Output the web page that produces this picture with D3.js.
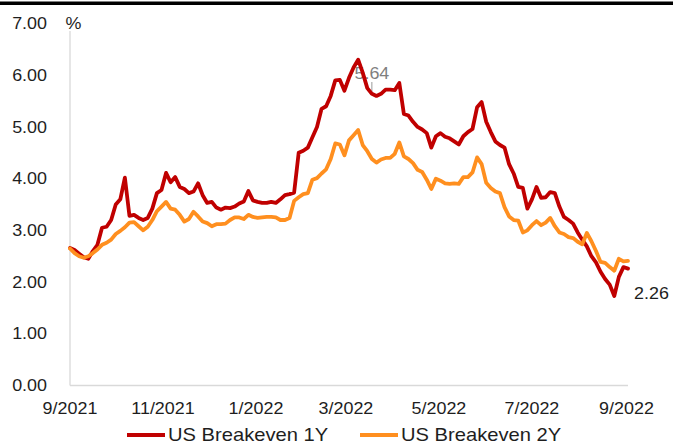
<!DOCTYPE html>
<html>
<head>
<meta charset="utf-8">
<script src="https://cdn.jsdelivr.net/npm/d3@7/dist/d3.min.js"></script>
<style>
  html, body { margin: 0; padding: 0; background: #fff; }
  svg { display: block; }
  text { font-family: "Liberation Sans", Arial, sans-serif; }
</style>
</head>
<body>
<svg id="chart" width="673" height="446"></svg>
<script>
// Observations every 3 days starting 1 Sep 2021
const startDate = new Date(2021, 8, 1);
const stepDays = 3;

const breakeven1Y = [
  2.66, 2.62, 2.55, 2.48, 2.45, 2.60, 2.72, 3.05, 3.07, 3.20,
  3.50, 3.60, 4.02, 3.28, 3.30, 3.24, 3.20, 3.24, 3.42, 3.72,
  3.78, 4.11, 3.93, 4.03, 3.84, 3.80, 3.72, 3.75, 3.91, 3.68,
  3.53, 3.55, 3.44, 3.40, 3.44, 3.43, 3.46, 3.52, 3.56, 3.76,
  3.58, 3.55, 3.53, 3.53, 3.55, 3.53, 3.60, 3.68, 3.70, 3.73,
  4.50, 4.54, 4.60, 4.80, 5.00, 5.35, 5.40, 5.60, 5.90, 5.91,
  5.70, 5.95, 6.15, 6.30, 6.05, 5.75, 5.64, 5.60, 5.64, 5.72,
  5.72, 5.71, 5.85, 5.25, 5.22, 5.10, 5.00, 4.95, 4.88, 4.60,
  4.82, 4.88, 4.81, 4.78, 4.72, 4.66, 4.82, 4.90, 4.96, 5.38,
  5.48, 5.10, 4.90, 4.72, 4.65, 4.60, 4.28, 4.10, 3.84, 3.82,
  3.42, 3.60, 3.84, 3.63, 3.64, 3.74, 3.72, 3.46, 3.26, 3.20,
  3.13, 2.96, 2.82, 2.69, 2.50, 2.38, 2.20, 2.06, 1.95, 1.73,
  2.10, 2.29, 2.26
];

const breakeven2Y = [
  2.65, 2.56, 2.50, 2.47, 2.50, 2.56, 2.63, 2.72, 2.76, 2.82,
  2.93, 2.99, 3.06, 3.15, 3.16, 3.08, 3.00, 3.07, 3.20, 3.37,
  3.46, 3.55, 3.42, 3.40, 3.30, 3.17, 3.22, 3.36, 3.27, 3.17,
  3.14, 3.08, 3.12, 3.12, 3.13, 3.20, 3.25, 3.25, 3.22, 3.30,
  3.26, 3.24, 3.25, 3.26, 3.26, 3.25, 3.20, 3.20, 3.24, 3.57,
  3.64, 3.70, 3.72, 3.98, 4.01, 4.10, 4.18, 4.38, 4.68, 4.66,
  4.45, 4.74, 4.84, 4.94, 4.65, 4.53, 4.38, 4.31, 4.37, 4.40,
  4.40, 4.48, 4.70, 4.43, 4.38, 4.30, 4.17, 4.13, 3.98, 3.80,
  4.00, 3.96, 3.91, 3.90, 3.91, 3.90, 4.03, 4.03, 4.12, 4.41,
  4.28, 3.92, 3.82, 3.75, 3.72, 3.45, 3.27, 3.20, 3.19, 2.96,
  3.00, 3.10, 3.18, 3.10, 3.15, 3.24, 3.08, 2.96, 2.93, 2.87,
  2.85, 2.78, 2.73, 2.95, 2.79, 2.60, 2.39, 2.37, 2.29, 2.22,
  2.45, 2.40, 2.41
];

const yTicks = [0, 1, 2, 3, 4, 5, 6, 7];
const xTickDates = [
  new Date(2021, 8, 1), new Date(2021, 10, 1), new Date(2022, 0, 1),
  new Date(2022, 2, 1), new Date(2022, 4, 1), new Date(2022, 6, 1),
  new Date(2022, 8, 1)
];
const seriesNames = ["US Breakeven 1Y", "US Breakeven 2Y"];
const seriesColors = ["#C00000", "#FF8F1F"];
const peakLabelIndex = 66;   // annotated point on the 1Y series

const dates = breakeven1Y.map((_, i) => d3.timeDay.offset(startDate, i * stepDays));

const svg = d3.select("#chart");
const SX = 1.12;              // horizontal text stretch
const textColor = "#1e1e1e";

const x = d3.scaleTime()
  .domain([dates[0], dates[dates.length - 1]])
  .range([70, 628]);
const y = d3.scaleLinear().domain([0, 7]).range([385.5, 23.5]);

function label(g, px, cy, str, anchor, color, size) {
  const fs = size || 16;
  return g.append("text")
    .attr("transform", `translate(${px},${cy + fs * 0.357}) scale(${SX},1)`)
    .attr("text-anchor", anchor)
    .attr("font-size", fs)
    .attr("fill", color || textColor)
    .text(str);
}

// top rule
svg.append("rect").attr("x", 0).attr("y", 1.5).attr("width", 673).attr("height", 3.5).attr("fill", "#000");

// axes lines
svg.append("line").attr("x1", 70).attr("x2", 70).attr("y1", 31).attr("y2", y(0))
  .attr("stroke", "#d9d9d9").attr("stroke-width", 1.3);
svg.append("line").attr("x1", 70).attr("x2", 628).attr("y1", y(0)).attr("y2", y(0))
  .attr("stroke", "#d9d9d9").attr("stroke-width", 1.3);

// y tick labels
const yg = svg.append("g");
yTicks.forEach(v => label(yg, 47, y(v), d3.format(".2f")(v), "end"));
label(yg, 65.5, 23.5, "%", "start");

// x tick labels
const xg = svg.append("g");
const fmt = d => `${d.getMonth() + 1}/${d.getFullYear()}`;
xTickDates.forEach(d => label(xg, x(d), 408, fmt(d), "middle"));

// annotation for the 1Y series
const pk = [x(dates[peakLabelIndex]), y(breakeven1Y[peakLabelIndex])];
svg.append("line").attr("x1", pk[0]).attr("x2", pk[0]).attr("y1", 82).attr("y2", pk[1])
  .attr("stroke", "#9a9a9a").attr("stroke-width", 1);
label(svg, pk[0], 73, d3.format(".2f")(breakeven1Y[peakLabelIndex]), "middle", "#7f7f7f");

// series lines
const line = d3.line()
  .x((d, i) => x(dates[i]))
  .y(d => y(d));
[breakeven1Y, breakeven2Y].forEach((s, k) => {
  svg.append("path")
    .datum(s)
    .attr("d", line)
    .attr("fill", "none")
    .attr("stroke", seriesColors[k])
    .attr("stroke-width", 3.8)
    .attr("stroke-linejoin", "round")
    .attr("stroke-linecap", "round");
});

// end value label
const last = breakeven1Y[breakeven1Y.length - 1];
label(svg, 634, 293, d3.format(".2f")(last), "start");

// legend
const legendPos = [127, 360];
seriesNames.forEach((name, k) => {
  const lx = legendPos[k];
  svg.append("line").attr("x1", lx).attr("x2", lx + 38).attr("y1", 435).attr("y2", 435)
    .attr("stroke", seriesColors[k]).attr("stroke-width", 4);
  label(svg, lx + 41, 435, name, "start", null, 18);
});
</script>
</body>
</html>
